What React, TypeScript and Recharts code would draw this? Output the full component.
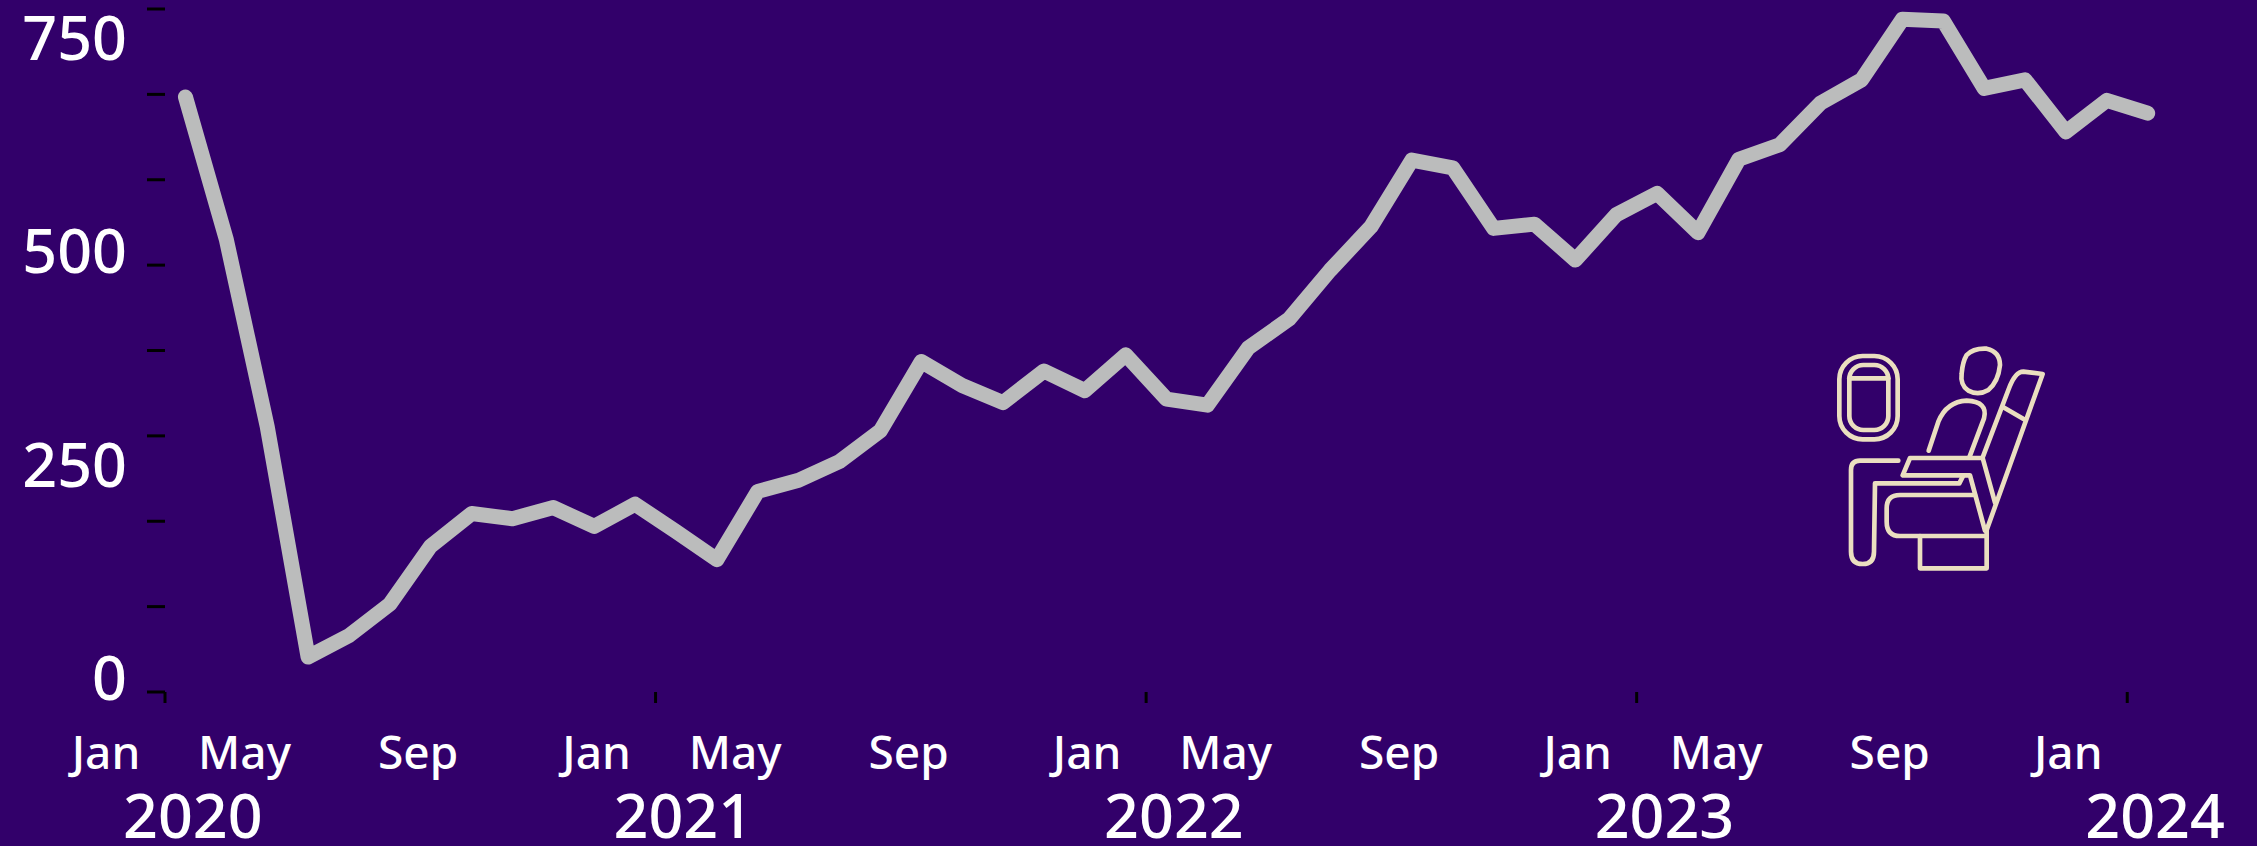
import { LineChart, Line, XAxis, YAxis } from "recharts";

const values = [
  697, 530, 311, 41, 66, 103, 171, 209, 203, 216, 194, 220, 188, 155, 235, 248, 270, 306, 387, 359,
  339, 376, 353, 395, 343, 336, 403, 437, 494, 545, 623, 614, 543, 548, 506, 559, 584, 538, 624, 641,
  690, 717, 788, 786, 707, 717, 656, 693, 678,
];
const yearTicks = [0, 12, 24, 36, 48];
const yearLabels = ["2020", "2021", "2022", "2023", "2024"];
const monthTicks = [0, 4, 8, 12, 16, 20, 24, 28, 32, 36, 40, 44, 48];
const monthNames = ["Jan", "May", "Sep"];
const yTicks = [0, 100, 200, 250, 300, 400, 500, 600, 700, 750, 800];

const BG = "#32006A";
const FONT = "'Noto Sans', sans-serif";
const LABEL_SHIFT = [-59, -84, -74];

// months run from the middle of each month, Jan 2020 = 0.5
const data = values.map((value, i) => ({ t: i + 0.5, value }));

function YearTick({ x, payload }: any) {
  return (
    <text x={x - 42} y={838} fill="#fff" fontSize={61} fontWeight={500} fontFamily={FONT} textAnchor="start">
      {yearLabels[yearTicks.indexOf(payload.value)]}
    </text>
  );
}

function MonthTick({ x, payload }: any) {
  const idx = (payload.value / 4) % 3;
  return (
    <text x={x + LABEL_SHIFT[idx]} y={769} fill="#fff" fontSize={46} fontWeight={500} fontFamily={FONT} textAnchor="middle">
      {monthNames[idx]}
    </text>
  );
}

// black mark every 100, number every 250 (the numbers sit a little above their value)
function ValueTick({ x, y, payload }: any) {
  const v = payload.value;
  return (
    <g>
      {v % 100 === 0 && <line x1={x - 18} x2={x} y1={y} y2={y} stroke="#000" strokeWidth={3} />}
      {v % 250 === 0 && (
        <text x={x - 38} y={y - 13} dy={21} fill="#fff" fontSize={61} fontWeight={500} fontFamily={FONT} textAnchor="end">
          {v}
        </text>
      )}
    </g>
  );
}

function SeatIcon() {
  return (
    <svg
      width={260}
      height={260}
      viewBox="0 0 780 780"
      style={{ position: "absolute", left: 1800, top: 320 }}
      fill="none"
      stroke="#EBDFC0"
      strokeWidth={14}
      strokeLinecap="round"
      strokeLinejoin="round"
    >
      <rect x={118} y={108} width={175} height={250} rx={70} />
      <rect x={148} y={135} width={117} height={195} rx={42} />
      <path d="M148 175 L265 175" />
      <path d="M500 105 Q520 84 560 86 Q600 95 600 135 Q595 185 565 210 Q535 228 505 212 Q480 195 485 160 Q488 125 500 105 Z" />
      <path d="M548 412 L625 210 Q645 155 670 155 L728 162 L560 630" />
      <path d="M610 262 L672 298" />
      <path d="M386 392 L415 305 Q440 245 500 242 Q565 245 552 295 L508 412" />
      <path d="M585 548 L548 414 L330 414 L308 466 L510 466 L555 632" />
      <path d="M295 422 L180 422 Q153 422 153 450 L153 695 Q153 732 188 732 Q222 732 222 695 L225 490 L478 490 L490 466" />
      <path d="M525 525 L300 525 Q260 525 260 565 L260 605 Q260 648 300 648 L560 648" />
      <path d="M360 648 L360 745 L560 745 L560 630" />
    </svg>
  );
}

export default function App() {
  return (
    <div style={{ position: "absolute", left: 0, top: 0, width: 2257, height: 846, background: BG, overflow: "hidden" }}>
      <LineChart width={2257} height={846} data={data} margin={{ top: 9, right: 48, bottom: 0, left: 0 }}>
        <XAxis
          xAxisId={0}
          dataKey="t"
          type="number"
          domain={[0, 50]}
          ticks={yearTicks}
          height={77}
          axisLine={false}
          tickLine={{ stroke: "#000", strokeWidth: 3 }}
          tickSize={11}
          tick={<YearTick />}
          interval={0}
        />
        <XAxis
          xAxisId={1}
          dataKey="t"
          type="number"
          domain={[0, 50]}
          ticks={monthTicks}
          height={77}
          axisLine={false}
          tickLine={false}
          tick={<MonthTick />}
          interval={0}
        />
        <YAxis
          domain={[0, 800]}
          ticks={yTicks}
          width={165}
          axisLine={false}
          tickLine={false}
          tickSize={0}
          tickMargin={0}
          tick={<ValueTick />}
          interval={0}
        />
        <Line
          xAxisId={0}
          dataKey="value"
          stroke="#BBBCBC"
          strokeWidth={15}
          strokeLinecap="round"
          strokeLinejoin="round"
          dot={false}
          isAnimationActive={false}
        />
      </LineChart>
      <SeatIcon />
    </div>
  );
}
